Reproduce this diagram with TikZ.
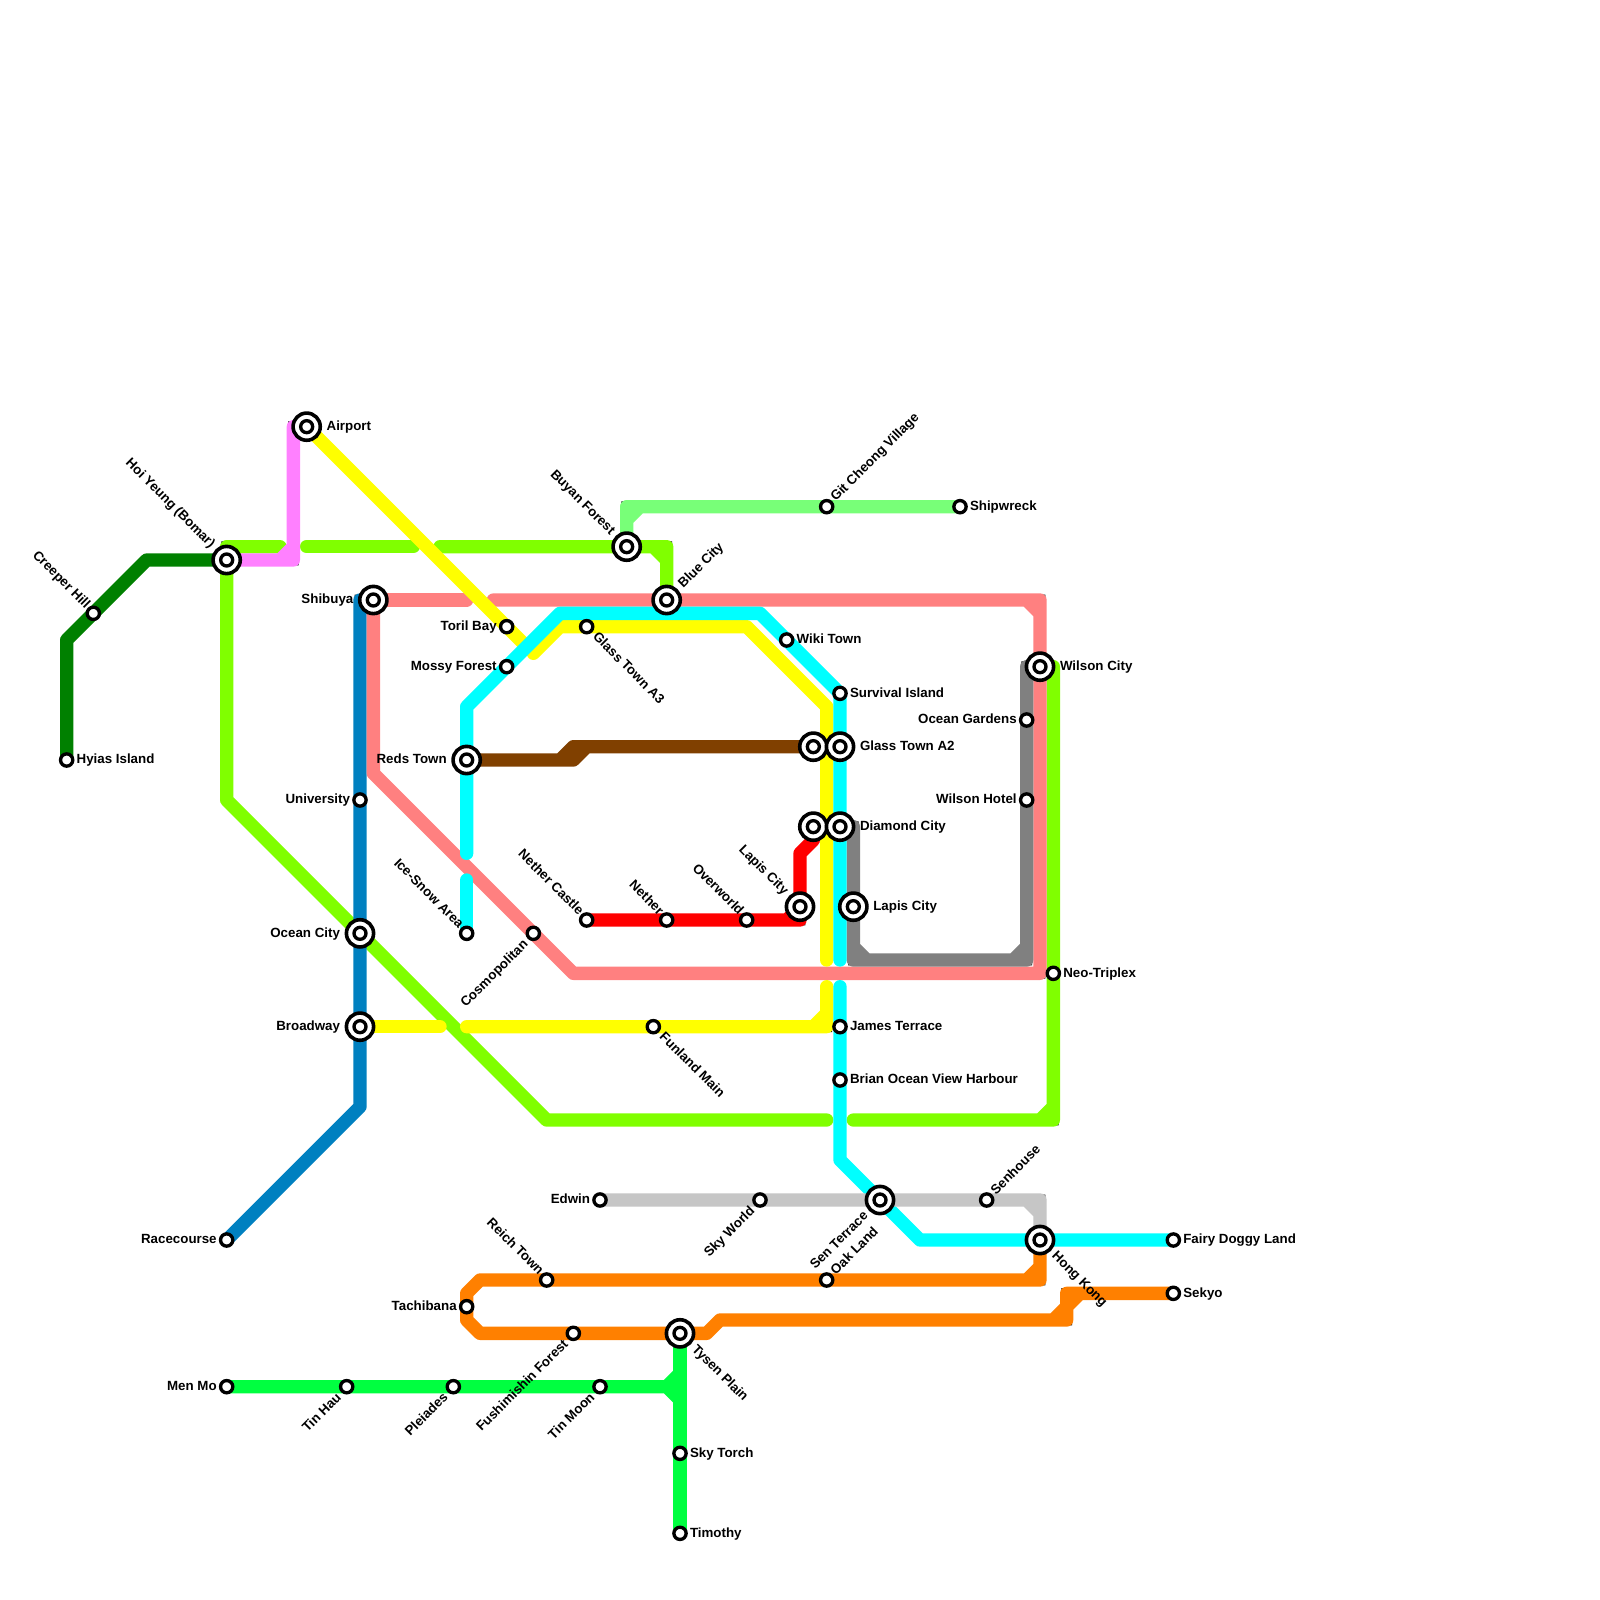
\documentclass[tikz,border=0pt]{standalone}
\usepackage{fontspec}
\setmainfont{Liberation Sans}
\usetikzlibrary{backgrounds}
\def\uu{0.33333cm}
\tikzset{
  mline/.style={line width=\uu,line cap=round,line join=round,
    preaction={draw,line width=0.8*\uu,line cap=round,line join=miter,miter limit=10}},
  smallstn/.style={circle,draw=black,fill=white,line width=0.25*\uu,minimum size=0.92*\uu,inner sep=0pt,outer sep=0pt},
  hubstn/.style={circle,draw=black,fill=white,line width=0.27*\uu,minimum size=2.04*\uu,inner sep=0pt,outer sep=0pt,
    path picture={\draw[line width=0.25*\uu] (path picture bounding box.center) circle (0.45*\uu);}},
  lab/.style={font=\fontsize{9.48pt}{11pt}\selectfont\bfseries,inner sep=0pt,outer sep=0pt,text=black,text height=7.34pt,text depth=2pt},
  R/.style={lab,anchor=west,xshift=0.75*\uu},
  L/.style={lab,anchor=east,xshift=-0.75*\uu},
  UL/.style={lab,xshift=-0.42*\uu,yshift=0.52*\uu,rotate=-45,anchor=east},
  UR/.style={lab,xshift=0.5*\uu,yshift=0.55*\uu,rotate=45,anchor=west},
  DR/.style={lab,xshift=0.62*\uu,yshift=-0.62*\uu,rotate=-45,anchor=west},
  DL/.style={lab,xshift=-0.55*\uu,yshift=-0.68*\uu,rotate=45,anchor=east},
  hR/.style={lab,anchor=west,xshift=1.5*\uu},
  hL/.style={lab,anchor=east,xshift=-1.5*\uu},
  hUL/.style={lab,xshift=-1.05*\uu,yshift=1.05*\uu,rotate=-45,anchor=east},
  hUR/.style={lab,xshift=1.05*\uu,yshift=1.05*\uu,rotate=45,anchor=west},
  hDR/.style={lab,xshift=1.05*\uu,yshift=-1.05*\uu,rotate=-45,anchor=west},
  hDL/.style={lab,xshift=-1.05*\uu,yshift=-1.05*\uu,rotate=45,anchor=east},
}
\newcommand\stn[4]{\node[smallstn] (#1) at (#2) {}; \node[#3] (#1-t) at (#1) {#4};}
\newcommand\hub[4]{\node[hubstn] (#1) at (#2) {}; \node[#3] (#1-t) at (#1) {#4};}
\definecolor{cDG}{HTML}{008000}
\definecolor{cPK}{HTML}{FF80FF}
\definecolor{cLM}{HTML}{80FF00}
\definecolor{cYL}{HTML}{FFFF00}
\definecolor{cSM}{HTML}{FF8080}
\definecolor{cGY}{HTML}{808080}
\definecolor{cCY}{HTML}{00FFFF}
\definecolor{cLG}{HTML}{78FF78}
\definecolor{cBR}{HTML}{804000}
\definecolor{cRD}{HTML}{FF0000}
\definecolor{cBL}{HTML}{0080C0}
\definecolor{cSV}{HTML}{C6C6C6}
\definecolor{cOR}{HTML}{FF8000}
\definecolor{cSG}{HTML}{00FF40}
\begin{document}
\begin{tikzpicture}[x=\uu,y=-\uu]
\useasboundingbox (0,0) rectangle (120,120);
% stations
\hub{airport}{23,32}{hR}{Airport}
\hub{hoi}{17,42}{hUL}{Hoi Yeung (Bomar)}
\stn{creeper}{7,46}{UL}{Creeper Hill}
\stn{hyias}{5,57}{R}{Hyias Island}
\hub{shibuya}{28,45}{hL}{Shibuya}
\stn{university}{27,60}{L}{University}
\hub{oceancity}{27,70}{hL}{Ocean City}
\hub{broadway}{27,77}{hL}{Broadway}
\stn{racecourse}{17,93}{L}{Racecourse}
\stn{toril}{38,47}{L}{Toril Bay}
\stn{mossy}{38,50}{L}{Mossy Forest}
\hub{reds}{35,57}{hL}{Reds Town}
\stn{icesnow}{35,70}{UL}{Ice-Snow Area}
\stn{cosmo}{40,70}{DL}{Cosmopolitan}
\stn{nethercastle}{44,69}{UL}{Nether Castle}
\stn{nether}{50,69}{UL}{Nether}
\stn{overworld}{56,69}{UL}{Overworld}
\hub{lapisw}{60,68}{hUL}{Lapis City}
\hub{redtop}{61,62}{lab}{}
\hub{browntop}{61,56}{lab}{}
\hub{glassa}{63,56}{hR}{Glass Town A2}
\hub{diamond}{63,62}{hR}{Diamond City}
\hub{lapise}{64,68}{hR}{Lapis City}
\stn{survival}{63,52}{R}{Survival Island}
\stn{wiki}{59,48}{R}{Wiki Town}
\stn{glassb}{44,47}{DR}{Glass Town A3}
\hub{bluecity}{50,45}{hUR}{Blue City}
\hub{buyan}{47,41}{hUL}{Buyan Forest}
\stn{git}{62,38}{UR}{Git Cheong Village}
\stn{shipwreck}{72,38}{R}{Shipwreck}
\hub{wilsoncity}{78,50}{hR}{Wilson City}
\stn{oceangardens}{77,54}{L}{Ocean Gardens}
\stn{wilsonhotel}{77,60}{L}{Wilson Hotel}
\stn{neo}{79,73}{R}{Neo-Triplex}
\stn{james}{63,77}{R}{James Terrace}
\stn{brian}{63,81}{R}{Brian Ocean View Harbour}
\stn{funland}{49,77}{DR}{Funland Main}
\hub{senterrace}{66,90}{hDL}{Sen Terrace}
\stn{senhouse}{74,90}{UR}{Senhouse}
\stn{skyworld}{57,90}{DL}{Sky World}
\stn{edwin}{45,90}{L}{Edwin}
\hub{hongkong}{78,93}{hDR}{Hong Kong}
\stn{fairy}{88,93}{R}{Fairy Doggy Land}
\stn{sekyo}{88,97}{R}{Sekyo}
\stn{oak}{62,96}{UR}{Oak Land}
\stn{reich}{41,96}{UL}{Reich Town}
\stn{tachibana}{35,98}{L}{Tachibana}
\stn{fushimi}{43,100}{DL}{Fushimishin Forest}
\hub{tysen}{51,100}{hDR}{Tysen Plain}
\stn{menmo}{17,104}{L}{Men Mo}
\stn{tinhau}{26,104}{DL}{Tin Hau}
\stn{pleiades}{34,104}{DL}{Pleiades}
\stn{tinmoon}{45,104}{DL}{Tin Moon}
\stn{skytorch}{51,109}{R}{Sky Torch}
\stn{timothy}{51,115}{R}{Timothy}
% lines
\begin{pgfonlayer}{background}
\fill[white] (0,0) rectangle (120,120);
\draw[mline,cLM] (21,41)--(17,41)--(17,60)--(oceancity.center)--(41,84)--(62,84);
\draw[mline,cLM] (23,41)--(31,41);
\draw[mline,cLM] (33,41)--(buyan.center)--(50,41)--(bluecity.center) (49,41)--(50,42);
\draw[mline,cLM] (64,84)--(79,84)--(neo.center)--(79,50) (78,84)--(79,83);
\draw[mline,cDG] (hyias.center)--(5,48)--(creeper.center)--(11,42)--(hoi.center);
\draw[mline,cPK] (airport.center)--(22,32)--(22,42)--(hoi.center) (22,41)--(21,42);
\draw[mline,cBL] (shibuya.center)--(27,45)--(university.center)--(oceancity.center)--(broadway.center)--(27,83)--(racecourse.center);
\draw[mline,cSM] (shibuya.center)--(35,45);
\draw[mline,cSM] (37,45)--(bluecity.center)--(78,45)--(78,73)--(43,73)--(cosmo.center)--(28,58)--(shibuya.center) (77,45)--(78,46);
\draw[mline,cYL] (airport.center)--(toril.center)--(39.5,48.5);
\draw[mline,cYL] (40,49)--(42,47)--(glassb.center)--(56,47)--(62,53)--(62,72);
\draw[mline,cYL] (62,74)--(62,77)--(funland.center)--(35,77) (61,77)--(62,76);
\draw[mline,cYL] (broadway.center)--(33,77);
\draw[mline,cGY] (diamond.center)--(64,62)--(lapise.center)--(64,72)--(77,72)--(wilsonhotel.center)--(oceangardens.center)--(77,50)--(wilsoncity.center) (64,71)--(65,72) (76,72)--(77,71);
\draw[mline,cCY] (fairy.center)--(hongkong.center)--(69,93)--(senterrace.center)--(63,87)--(brian.center)--(james.center)--(63,74);
\draw[mline,cCY] (63,72)--(diamond.center)--(glassa.center)--(survival.center)--(wiki.center)--(57,46)--(42,46)--(mossy.center)--(35,53)--(reds.center)--(35,64);
\draw[mline,cCY] (35,66)--(icesnow.center);
\draw[mline,cLG] (buyan.center)--(47,38)--(git.center)--(shipwreck.center) (47,39)--(48,38);
\draw[mline,cBR] (reds.center)--(43,57)--(44,56) (42,57)--(43,56)--(browntop.center);
\draw[mline,cRD] (nethercastle.center)--(nether.center)--(overworld.center)--(60,69)--(lapisw.center)--(60,64)--(61,63)--(redtop.center) (59,69)--(60,68);
\draw[mline,cSV] (edwin.center)--(skyworld.center)--(senterrace.center)--(senhouse.center)--(78,90)--(hongkong.center) (77,90)--(78,91);
\draw[mline,cOR] (hongkong.center)--(78,96)--(oak.center)--(reich.center)--(36,96)--(35,97)--(tachibana.center)--(35,99)--(36,100)--(fushimi.center)--(tysen.center)--(53,100)--(54,99)--(80,99)--(80,97)--(sekyo.center) (77,96)--(78,95) (79,99)--(80,98) (80,98)--(81,97);
\draw[mline,cSG] (menmo.center)--(tinhau.center)--(pleiades.center)--(tinmoon.center)--(51,104) (50,104)--(51,103) (50,104)--(51,105);
\draw[mline,cSG] (tysen.center)--(skytorch.center)--(timothy.center);
\end{pgfonlayer}
\end{tikzpicture}
\end{document}
